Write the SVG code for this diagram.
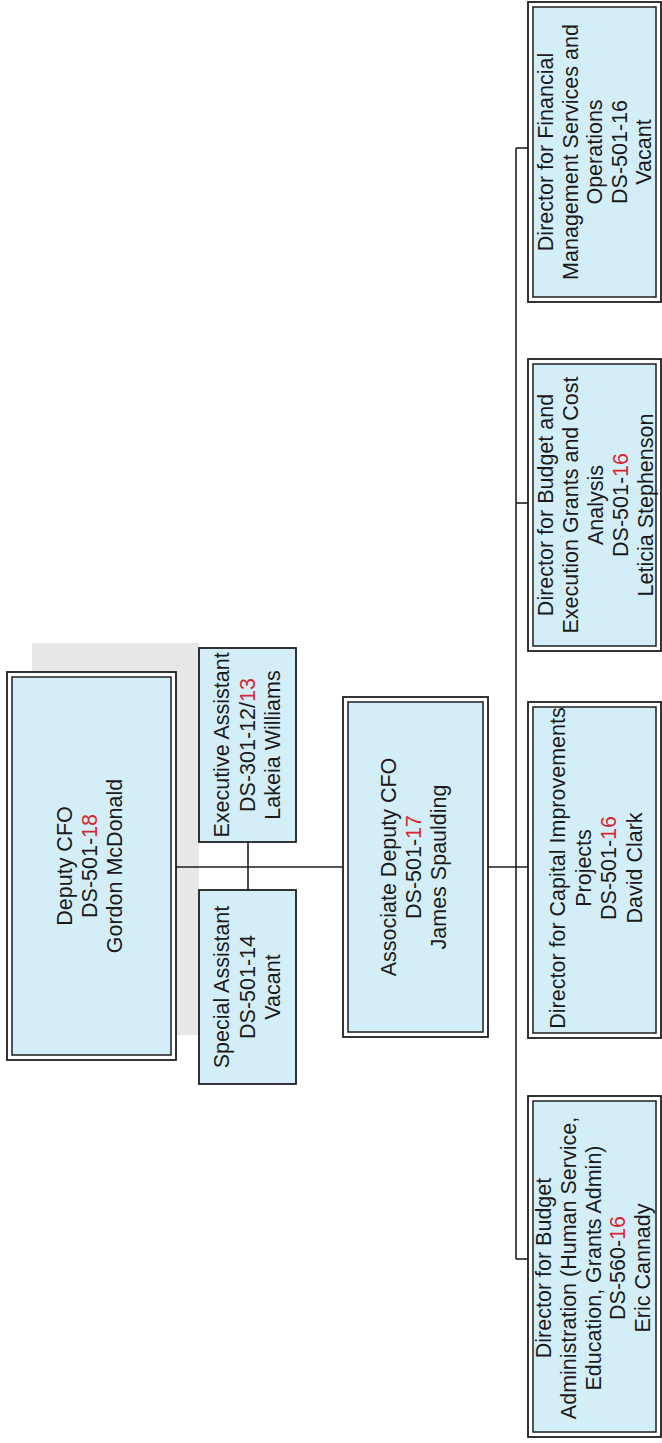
<svg xmlns="http://www.w3.org/2000/svg" width="662" height="1443" viewBox="0 0 662 1443">
<style>
.bg{fill:#ffffff}
.shadow{fill:#e7e7e7}
.outer{fill:#ffffff;stroke:#1e1e1e;stroke-width:1.8}
.inner{fill:#d4eef8;stroke:#1e1e1e;stroke-width:1.5}
.single{fill:#d4eef8;stroke:#1e1e1e;stroke-width:1.8}
.conn{stroke:#1e1e1e;stroke-width:1.6;fill:none}
text{font-family:"Liberation Sans",Arial,sans-serif;font-size:21.5px;fill:#1a1a1a;text-anchor:middle}
.red{fill:#d8262e}
</style>
<rect class="bg" x="0" y="0" width="662" height="1443"/>
<rect class="shadow" x="32" y="643" width="167" height="392"/>
<g id="connectors">
<line class="conn" x1="176" y1="867" x2="528" y2="867"/>
<line class="conn" x1="248" y1="842" x2="248" y2="890"/>
<line class="conn" x1="516" y1="148" x2="516" y2="1259"/>
<line class="conn" x1="516" y1="148" x2="528" y2="148"/>
<line class="conn" x1="516" y1="503" x2="528" y2="503"/>
<line class="conn" x1="516" y1="1259" x2="528" y2="1259"/>
</g>
<g id="deputy-cfo">
<rect class="outer" x="7" y="672" width="169" height="388"/>
<rect class="inner" x="12" y="677" width="159" height="378"/>
<text transform="translate(72,866) rotate(-90)"><tspan x="0" dy="0">Deputy CFO</tspan><tspan x="0" dy="25">DS-501-<tspan class="red">18</tspan></tspan><tspan x="0" dy="25">Gordon McDonald</tspan></text>
</g>
<g id="executive-assistant">
<rect class="single" x="199" y="648" width="97" height="194"/>
<text transform="translate(229,745) rotate(-90)"><tspan x="0" dy="0">Executive Assistant</tspan><tspan x="0" dy="25.5">DS-301-12/<tspan class="red">13</tspan></tspan><tspan x="0" dy="25.5">Lakeia Williams</tspan></text>
</g>
<g id="special-assistant">
<rect class="single" x="199" y="890" width="97" height="194"/>
<text transform="translate(229,987) rotate(-90)"><tspan x="0" dy="0">Special Assistant</tspan><tspan x="0" dy="25.5">DS-501-14</tspan><tspan x="0" dy="25.5">Vacant</tspan></text>
</g>
<g id="associate-deputy-cfo">
<rect class="outer" x="343" y="697" width="145" height="340"/>
<rect class="inner" x="348" y="702" width="135" height="330"/>
<text transform="translate(396,867) rotate(-90)"><tspan x="0" dy="0">Associate Deputy CFO</tspan><tspan x="0" dy="25">DS-501-<tspan class="red">17</tspan></tspan><tspan x="0" dy="25">James Spaulding</tspan></text>
</g>
<g id="director-financial">
<rect class="outer" x="528" y="2" width="133" height="300"/>
<rect class="inner" x="533" y="7" width="123" height="290"/>
<text transform="translate(553,152) rotate(-90)"><tspan x="0" dy="0">Director for Financial</tspan><tspan x="0" dy="24.5">Management Services and</tspan><tspan x="0" dy="24.5">Operations</tspan><tspan x="0" dy="24.5">DS-501-16</tspan><tspan x="0" dy="24.5">Vacant</tspan></text>
</g>
<g id="director-budget-execution">
<rect class="outer" x="528" y="359" width="133" height="292"/>
<rect class="inner" x="533" y="364" width="123" height="282"/>
<text transform="translate(553,505) rotate(-90)"><tspan x="0" dy="0">Director for Budget and</tspan><tspan x="0" dy="25">Execution Grants and Cost</tspan><tspan x="0" dy="25">Analysis</tspan><tspan x="0" dy="25">DS-501-<tspan class="red">16</tspan></tspan><tspan x="0" dy="25">Leticia Stephenson</tspan></text>
</g>
<g id="director-capital">
<rect class="outer" x="528" y="702" width="133" height="336"/>
<rect class="inner" x="533" y="707" width="123" height="326"/>
<text transform="translate(565,868) rotate(-90)"><tspan x="0" dy="0">Director for Capital Improvements</tspan><tspan x="0" dy="25.5">Projects</tspan><tspan x="0" dy="25.5">DS-501-<tspan class="red">16</tspan></tspan><tspan x="0" dy="25.5">David Clark</tspan></text>
</g>
<g id="director-budget-administration">
<rect class="outer" x="528" y="1096" width="133" height="341"/>
<rect class="inner" x="533" y="1101" width="123" height="331"/>
<text transform="translate(551,1268) rotate(-90)"><tspan x="0" dy="0">Director for Budget</tspan><tspan x="0" dy="24.75">Administration (Human Service,</tspan><tspan x="0" dy="24.75">Education, Grants Admin)</tspan><tspan x="0" dy="24.75">DS-560-<tspan class="red">16</tspan></tspan><tspan x="0" dy="24.75">Eric Cannady</tspan></text>
</g>
</svg>
